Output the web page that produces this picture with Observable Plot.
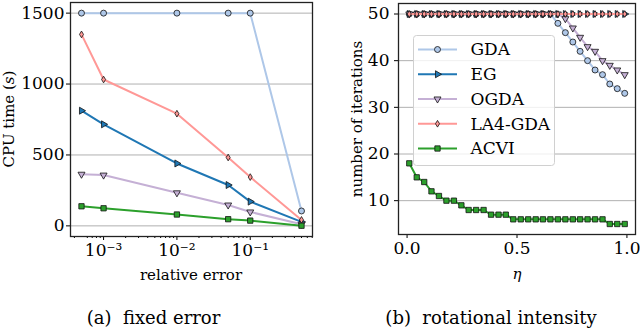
<!DOCTYPE html>
<html><head><meta charset="utf-8">
<script src="https://cdn.jsdelivr.net/npm/d3@7"></script>
<script src="https://cdn.jsdelivr.net/npm/@observablehq/plot@0.6"></script>
<style>
body{margin:0;background:#fff;}
#fig{position:relative;width:640px;height:328px;overflow:hidden;font-family:"DejaVu Serif",serif;color:#000;background:#fff;}
#fig svg, #fig svg text{font-family:"DejaVu Serif",serif !important;font-size:17px !important;}
.panel{position:absolute;top:0;}
.lbl{position:absolute;transform:translate(-50%,-50%);white-space:nowrap;font-size:15px;font-family:"DejaVu Serif",serif;}
.cap{position:absolute;transform:translate(-50%,-50%);white-space:nowrap;font-size:18px;font-family:"DejaVu Serif",serif;}
</style></head><body>
<div id="fig"></div>
<script>
// ---------- data: panel (a) fixed error ----------
const relErr = [5e-4, 1e-3, 1e-2, 5e-2, 1e-1, 5e-1];
const cpuGDA  = [1500, 1500, 1500, 1500, 1500, 105];
const cpuEG   = [812, 716, 440, 288, 171, 28];
const cpuOGDA = [364, 358, 233, 147, 98, 12];
const cpuLA4  = [1350, 1032, 791, 482, 344, 42];
const cpuACVI = [138, 124, 80, 47, 37, 1];
const yTicksA = [0, 500, 1000, 1500];
const xTicksA = [1e-3, 1e-2, 1e-1];
const xTickLabelsA = ["10\u207B\u00B3", "10\u207B\u00B2", "10\u207B\u00B9"];
const xMinorA = [4e-4,6e-4,7e-4,8e-4,9e-4,2e-3,3e-3,4e-3,5e-3,6e-3,7e-3,8e-3,9e-3,2e-2,3e-2,4e-2,5e-2,6e-2,7e-2,8e-2,9e-2,2e-1,3e-1,4e-1,5e-1,6e-1,7e-1];

// ---------- data: panel (b) rotational intensity ----------
const eta = [0.010,0.044,0.078,0.111,0.145,0.179,0.213,0.247,0.280,0.314,0.348,0.382,0.416,0.449,0.483,0.517,0.551,0.585,0.618,0.652,0.686,0.720,0.754,0.787,0.821,0.855,0.889,0.922,0.956,0.990];
const itGDA  = [50,50,50,50,50,50,50,50,50,50,50,50,50,50,50,50,50,50,50,50,48,46,44,42,40,38,37,35,34,33];
const itEG   = [50,50,50,50,50,50,50,50,50,50,50,50,50,50,50,50,50,50,50,50,50,50,50,50,50,50,50,50,50,50];
const itOGDA = [50,50,50,50,50,50,50,50,50,50,50,50,50,50,50,50,50,50,50,50,50,49,47,45,43,42,40,39,38,37];
const itLA4  = [50,50,50,50,50,50,50,50,50,50,50,50,50,50,50,50,50,50,50,50,50,50,50,50,50,50,50,50,50,50];
const itACVI = [18,15,14,12,11,10,10,9,8,8,8,7,7,7,6,6,6,6,6,6,6,6,6,6,6,6,6,5,5,5];
const yTicksB = [10, 20, 30, 40, 50];
const xTicksB = [0, 0.5, 1.0];

const names = ["GDA", "EG", "OGDA", "LA4-GDA", "ACVI"];
const colors = ["#aec7e8", "#1f77b4", "#c5b0d5", "#ff9896", "#2ca02c"];

// ---------- marker styles ----------
const thinDiamond = {draw(ctx, size){const h=Math.sqrt(size)*0.63, w=h*0.6; ctx.moveTo(0,-h);ctx.lineTo(w,0);ctx.lineTo(0,h);ctx.lineTo(-w,0);ctx.closePath();}};
const markers = [
  {symbol: "circle", rotate: 0, r: 3},
  {symbol: "triangle", rotate: 90, r: 2.6},
  {symbol: "triangle", rotate: 180, r: 2.6},
  {symbol: thinDiamond, rotate: 0, r: 3},
  {symbol: "square", rotate: 0, r: 3}
];

function seriesMarks(xs, ys, k) {
  const rows = xs.map((x, i) => ({x, y: ys[i]}));
  const m = markers[k];
  return [
    Plot.line(rows, {x: "x", y: "y", stroke: colors[k], strokeWidth: 2}),
    Plot.dot(rows, {x: "x", y: "y", symbol: m.symbol, r: m.r, rotate: m.rotate, fill: colors[k], stroke: "#111", strokeWidth: 0.8})
  ];
}

const FONT = "DejaVu Serif";
const style = {fontFamily: FONT, fontSize: "17px", color: "#000", background: "transparent", overflow: "visible"};
const gridStyle = {stroke: "#b0b0b0", strokeOpacity: 1, strokeWidth: 1};

const fig = document.getElementById("fig");

// ---------- panel (a) ----------
const seriesA = [cpuGDA, cpuEG, cpuOGDA, cpuLA4, cpuACVI];
const labelMapA = new Map(xTicksA.map((t, i) => [t, xTickLabelsA[i]]));
const plotA = Plot.plot({
  width: 320, height: 290,
  marginLeft: 70, marginRight: 8, marginTop: 2, marginBottom: 54,
  style,
  x: {type: "log", domain: [Math.pow(10, -3.451), Math.pow(10, -0.151)]},
  y: {domain: [-75, 1575]},
  marks: [
    Plot.gridY(yTicksA, gridStyle),
    Plot.axisY(yTicksA, {tickSize: 4, tickPadding: 2, tickFormat: d => String(d), label: null, fontFamily: FONT}),
    Plot.axisX(xMinorA, {tickSize: 2, tickFormat: () => "", label: null}),
    Plot.axisX(xTicksA, {tickSize: 4, tickPadding: 3, tickFormat: d => labelMapA.get(d), label: null, fontFamily: FONT}),
    ...seriesA.flatMap((ys, k) => seriesMarks(relErr, ys, k)),
    Plot.frame({stroke: "#222", strokeWidth: 1.3})
  ]
});
plotA.classList.add("panel");
plotA.style.left = "0px";
fig.appendChild(plotA);

// ---------- panel (b) ----------
const seriesB = [itGDA, itEG, itOGDA, itLA4, itACVI];
const plotB = Plot.plot({
  width: 320, height: 290,
  marginLeft: 78, marginRight: 5, marginTop: 3, marginBottom: 56,
  style,
  x: {domain: [-0.039, 1.039]},
  y: {domain: [2.75, 52.25]},
  marks: [
    Plot.gridY(yTicksB, gridStyle),
    Plot.axisY(yTicksB, {tickSize: 4, tickPadding: 5, tickFormat: d => String(d), label: null, fontFamily: FONT}),
    Plot.axisX(xTicksB, {tickSize: 4, tickPadding: 3, tickFormat: d3.format(".1f"), label: null, fontFamily: FONT}),
    ...seriesB.flatMap((ys, k) => seriesMarks(eta, ys, k)),
    Plot.frame({stroke: "#222", strokeWidth: 1.3})
  ]
});
plotB.classList.add("panel");
plotB.style.left = "320px";
fig.appendChild(plotB);

// ---------- labels ----------
function addText(html, x, y, cls, rot) {
  const d = document.createElement("div");
  d.className = cls;
  d.innerHTML = html;
  d.style.left = x + "px"; d.style.top = y + "px";
  if (rot) d.style.transform = "translate(-50%,-50%) rotate(" + rot + "deg)";
  fig.appendChild(d);
}
addText("CPU time (<i>s</i>)", 9, 119, "lbl", -90);
addText("relative error", 191, 275, "lbl");
addText("number of iterations", 357, 118.5, "lbl", -90);
addText("<i>\u03B7</i>", 517, 274, "lbl");
addText("(a)&nbsp;&nbsp;fixed error", 153.5, 317, "cap");
addText("(b)&nbsp;&nbsp;rotational intensity", 491, 317, "cap");

// ---------- legend ----------
const leg = d3.select(fig).append("svg")
  .style("position", "absolute").style("left", "413px").style("top", "35px")
  .attr("width", 142).attr("height", 131);
leg.append("rect").attr("x", 0.5).attr("y", 0.5).attr("width", 141).attr("height", 130).attr("rx", 3)
  .attr("fill", "rgba(255,255,255,0.8)").attr("stroke", "#d0d0d0").attr("stroke-width", 1);
const symMap = {circle: d3.symbolCircle, triangle: d3.symbolTriangle, square: d3.symbolSquare};
names.forEach((name, k) => {
  const cy = 14.5 + k * 24.75;
  const g = leg.append("g").attr("transform", `translate(0,${cy})`);
  g.append("line").attr("x1", 5).attr("x2", 44).attr("y1", 0).attr("y2", 0).attr("stroke", colors[k]).attr("stroke-width", 2);
  const m = markers[k];
  const sz = Math.PI * m.r * m.r;
  const sym = typeof m.symbol === "string" ? symMap[m.symbol] : m.symbol;
  g.append("path").attr("d", d3.symbol(sym, sz)())
    .attr("transform", `translate(24.5,0) rotate(${m.rotate})`)
    .attr("fill", colors[k]).attr("stroke", "#111").attr("stroke-width", 0.8);
  g.append("text").attr("x", 57.5).attr("y", 0).attr("dy", "0.35em")
    .attr("fill", "#000").text(name);
});
</script>
</body></html>
